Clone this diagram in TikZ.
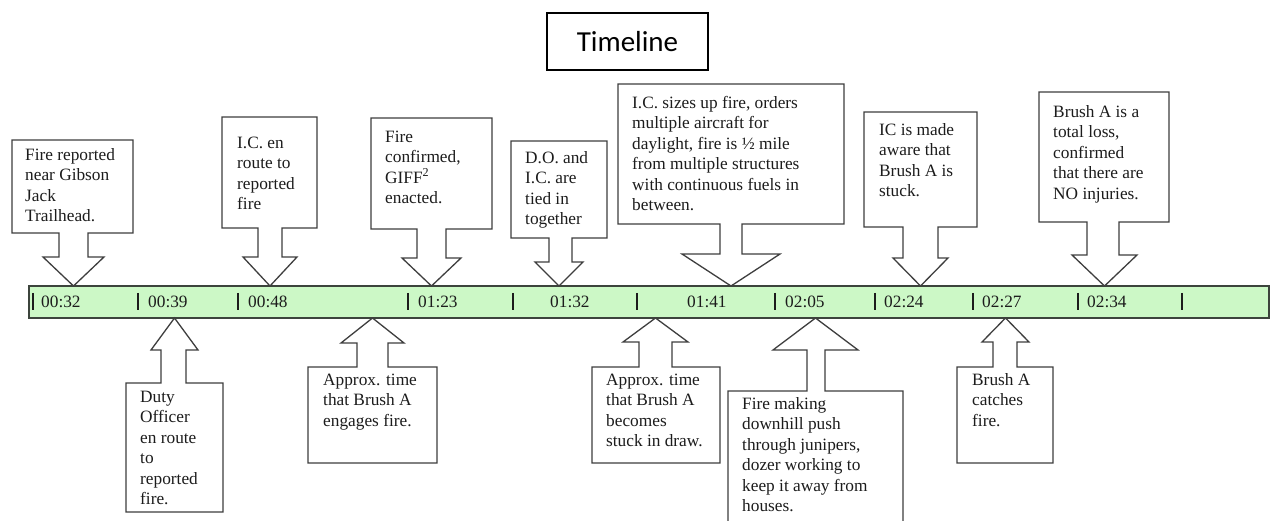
\documentclass[tikz,border=0pt]{standalone}
\usepackage{fontspec}
\setmainfont{Liberation Serif}
\newfontfamily\titlefont{Carlito}
\definecolor{barfill}{RGB}{204,248,198}
\definecolor{barline}{RGB}{60,68,60}
\definecolor{boxline}{RGB}{62,62,62}
\definecolor{txtcol}{RGB}{28,28,28}
\def\tipy{286}
\newcommand\calloutshape[9]{%
  \draw[calloutsty] (#1,#3) -- (#2,#3) -- (#2,#4) -- (#6,#4) -- (#6,#9) -- (#8,#9)
    -- ({(#7+#8)/2},\tipy) -- (#7,#9) -- (#5,#9) -- (#5,#4) -- (#1,#4) -- cycle;}
\begin{document}
\begin{tikzpicture}[x=1pt,y=-1pt,
  calloutsty/.style={draw=boxline,line width=1.3pt,fill=white,line join=miter},
  txt/.style={anchor=north west,inner sep=0pt,align=left,text=txtcol,
    font=\fontsize{17.3}{20.5}\selectfont},
  timelbl/.style={anchor=base west,inner sep=0pt,text=txtcol,
    font=\fontsize{17.3}{20.5}\selectfont},
  tick/.style={draw=txtcol,line width=1.1pt}]
\useasboundingbox (0,0) rectangle (1272,521);
\clip (0,0) rectangle (1272,521);
\fill[white] (0,0) rectangle (1272,521);

% title
\node[draw=black,line width=2pt,minimum width=161pt,minimum height=57pt,inner sep=0pt,
  font=\titlefont\fontsize{29}{34}\selectfont] (title) at (627.5,41.5) {Timeline};

% bar
\draw[draw=barline,line width=1.5pt,fill=barfill] (29,286) rectangle (1269,318);
\node[coordinate] (bar) at (649,302) {};

% ticks and times
\foreach \tx/\lx/\lab/\nm in {33/41/00:32/a,138/148/00:39/b,238/248/00:48/c,408/418/01:23/d,
  513/550/01:32/e,637/687/01:41/f,775/785/02:05/g,875/884/02:24/h,973/982/02:27/i,1078/1087/02:34/j}{
  \draw[tick] (\tx,293) -- (\tx,310);
  \node[timelbl] (time\nm) at (\lx,308) {\lab};
}
\draw[tick] (1182,293) -- (1182,310);

% top callouts
\def\tipy{286}
\calloutshape{12}{133}{140}{233}{59}{88}{43}{104}{257}
\calloutshape{222}{317}{117}{228}{258}{282}{243}{297}{257}
\calloutshape{371}{492}{118}{229}{417}{446}{402}{461}{258}
\calloutshape{511}{607}{141}{238}{549}{572}{535}{583}{262}
\calloutshape{618}{844}{84}{224}{720}{742}{682}{780}{254}
\calloutshape{864}{977}{112}{227}{903}{938}{893}{948}{258}
\calloutshape{1039}{1169}{92}{222}{1087}{1119}{1072}{1137}{255}

% bottom callouts
\def\tipy{318}
\calloutshape{126}{223}{512}{383}{161}{186}{151}{198}{350}
\calloutshape{308}{437}{463}{367}{357}{388}{341}{404}{343}
\calloutshape{592}{720}{463}{367}{639}{672}{623}{688}{342}
\calloutshape{728}{903}{540}{391}{807}{825}{773}{858}{350}
\calloutshape{957}{1053}{463}{367}{993}{1017}{982}{1029}{342}

% texts
\node[txt] (t1) at (25,145.5) {\strut Fire reported\\near Gibson\\Jack\\Trailhead.};
\node[txt] (t2) at (237,133.5) {\strut I.C. en\\route to\\reported\\fire};
\node[txt] (t3) at (385,127.5) {\strut Fire\\confirmed,\\GIFF\textsuperscript{2}\\enacted.};
\node[txt] (t4) at (525,148.5) {\strut D.O. and\\I.C. are\\tied in\\together};
\node[txt] (t5) at (632,93.5) {\strut I.C. sizes up fire, orders\\multiple aircraft for\\daylight, fire is ½ mile\\from multiple structures\\with continuous fuels in\\between.};
\node[txt] (t6) at (879,120.5) {\strut IC is made\\aware that\\Brush A is\\stuck.};
\node[txt] (t7) at (1053,102.5) {\strut Brush A is a\\total loss,\\confirmed\\that there are\\NO injuries.};
\node[txt] (b1) at (140,387.5) {\strut Duty\\Officer\\en route\\to\\reported\\fire.};
\node[txt] (b2) at (323,370.5) {\strut Approx. time\\that Brush A\\engages fire.};
\node[txt] (b3) at (606,370.5) {\strut Approx. time\\that Brush A\\becomes\\stuck in draw.};
\node[txt] (b4) at (742,394.5) {\strut Fire making\\downhill push\\through junipers,\\dozer working to\\keep it away from\\houses.};
\node[txt] (b5) at (972,370.5) {\strut Brush A\\catches\\fire.};
\end{tikzpicture}
\end{document}
